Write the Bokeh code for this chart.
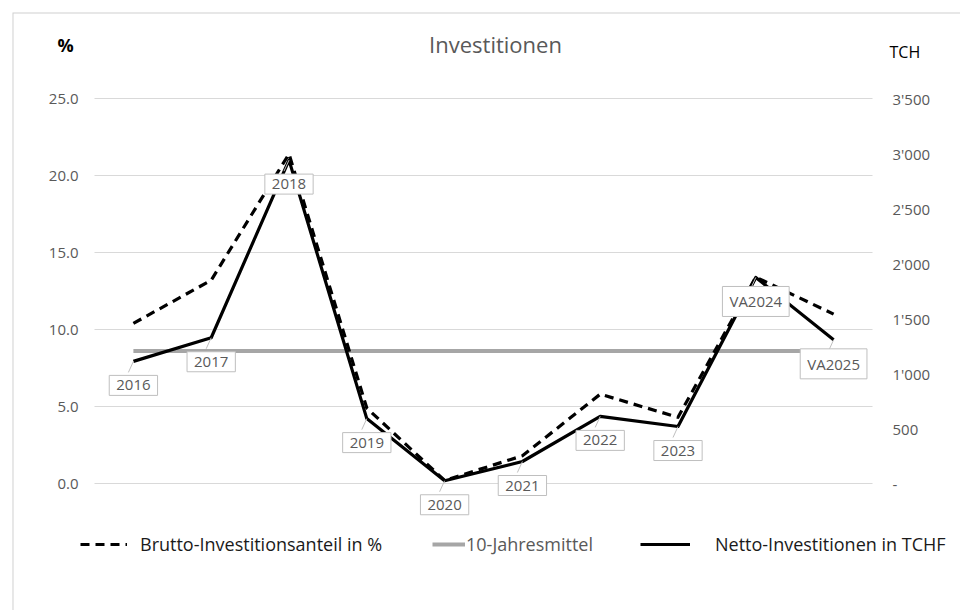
from bokeh.plotting import figure
from bokeh.models import (Range1d, LinearAxis, FixedTicker, Label, Legend, LegendItem,
                          ColumnDataSource, BoxAnnotation)
from bokeh.core.properties import value
from bokeh.embed import file_html
from bokeh.resources import INLINE

# ---------------- data ----------------
categories = ["2016", "2017", "2018", "2019", "2020", "2021", "2022", "2023", "VA2024", "VA2025"]
brutto_pct = [10.4, 13.2, 21.4, 4.9, 0.2, 1.8, 5.8, 4.3, 13.4, 11.0]
netto_tchf = [1110, 1325, 2940, 590, 25, 200, 610, 518, 1873, 1306]
mittel_pct = [8.6] * len(categories)

left_ticks = [0, 5, 10, 15, 20, 25]
left_tick_labels = ["0.0", "5.0", "10.0", "15.0", "20.0", "25.0"]
right_ticks = [0, 500, 1000, 1500, 2000, 2500, 3000, 3500]
right_tick_labels = ["-", "500", "1'000", "1'500", "2'000", "2'500", "3'000", "3'500"]

title_text = "Investitionen"
left_title = "%"
right_title = "TCH"
legend_labels = ["Brutto-Investitionsanteil in %", "10-Jahresmittel", "Netto-Investitionen in TCHF"]

# ---------------- layout geometry (pixels) ----------------
FONT = "Open Sans"
W, H = 960, 610
FR_L, FR_R, FR_T, FR_B = 12, 960, 12, 610          # frame edges on the canvas
PLOT_L, PLOT_R, PLOT_T, PLOT_B = 94, 872, 98, 483  # category span / value span 0..25

n = len(categories)
sx = (PLOT_R - PLOT_L) / n
sy = (PLOT_B - PLOT_T) / left_ticks[-1]
x_start = -(PLOT_L - FR_L) / sx
x_end = n + (FR_R - PLOT_R) / sx
y_end = left_ticks[-1] + (PLOT_T - FR_T) / sy
y_start = -(FR_B - PLOT_B) / sy
ratio = right_ticks[-1] / left_ticks[-1]

xs = [i + 0.5 for i in range(n)]

p = figure(width=W, height=H, output_backend="svg", toolbar_location=None,
           x_range=Range1d(x_start, x_end), y_range=Range1d(y_start, y_end),
           min_border_left=FR_L, min_border_right=W - FR_R, min_border_top=FR_T,
           min_border_bottom=H - FR_B,
           outline_line_color=None, background_fill_color="white", border_fill_color="white")
p.extra_y_ranges = {"right": Range1d(y_start * ratio, y_end * ratio)}

p.xaxis.visible = False
p.xgrid.visible = False
p.ygrid.visible = False


def style_axis(ax, standoff):
    ax.axis_line_color = None
    ax.major_tick_line_color = None
    ax.minor_tick_line_color = None
    ax.major_tick_out = 0
    ax.major_tick_in = 0
    ax.major_label_standoff = standoff
    ax.major_label_text_font = FONT
    ax.major_label_text_font_size = "15px"
    ax.major_label_text_color = "#595959"


ya = p.yaxis[0]
ya.ticker = FixedTicker(ticks=left_ticks)
ya.major_label_overrides = {t: s for t, s in zip(left_ticks, left_tick_labels)}
ya.fixed_location = 0
style_axis(ya, 16)

ra = LinearAxis(y_range_name="right", ticker=FixedTicker(ticks=right_ticks))
ra.major_label_overrides = {t: s for t, s in zip(right_ticks, right_tick_labels)}
ra.fixed_location = n
style_axis(ra, 20)
p.add_layout(ra, "right")

# outer chart border (only top and left edges fall inside the canvas)
p.add_layout(BoxAnnotation(left=x_start, right=x_end + 50, top=y_end, bottom=y_start - 50,
                           fill_alpha=0, line_color="#d0d0d0", line_alpha=1.0, line_width=2,
                           level="underlay"))

# gridlines over the category span
p.segment(x0=[0] * len(left_ticks), x1=[n] * len(left_ticks), y0=left_ticks, y1=left_ticks,
          line_color="#d9d9d9", line_width=1)

# ---------------- series ----------------
src = ColumnDataSource(dict(x=xs, cat=categories, brutto=brutto_pct, netto=netto_tchf, mittel=mittel_pct))

r_mittel = p.line("x", "mittel", source=src, line_color="#a6a6a6", line_width=4)
r_brutto = p.line("x", "brutto", source=src, line_color="black", line_width=3.2,
                  line_dash="9 6", line_join="round")
r_netto = p.line("x", "netto", source=src, y_range_name="right", line_color="black",
                 line_width=3.2, line_join="round")

# callout pointers
ptr_len = 11 / (sy / ratio)
p.segment(x0=xs, y0=netto_tchf, x1=[x - 5 / sx for x in xs], y1=[v - ptr_len for v in netto_tchf],
          y_range_name="right", line_color="#bfbfbf", line_width=1)

# data labels
p.text("x", "netto", text="cat", source=src, y_range_name="right",
       text_align="center", text_baseline="middle", y_offset=24,
       text_font=value(FONT), text_font_size="15px", text_color="#595959",
       background_fill_color="white", border_line_color="#bfbfbf", border_line_width=1,
       padding=(7, 5))

# ---------------- titles ----------------
def px_label(px, py, text, size, color, style="normal", align="center"):
    p.add_layout(Label(x=(px - PLOT_L) / sx, y=(PLOT_B - py) / sy, text=text,
                       text_font=FONT, text_font_size=size, text_color=color,
                       text_font_style=style, text_align=align, text_baseline="middle"))

px_label(495, 43, title_text, "22px", "#595959")
px_label(65, 44, left_title, "18px", "black", style="bold")
px_label(889, 51, right_title, "16px", "black", align="left")

# ---------------- legends ----------------
def add_legend(label, rend, glyph_left, gw, standoff, color):
    lg = Legend(items=[LegendItem(label=label, renderers=[rend])],
                location=(glyph_left - FR_L, FR_B - 556),
                orientation="horizontal", padding=0, margin=0, border_line_color=None,
                background_fill_alpha=0, glyph_width=gw, glyph_height=22, label_height=22,
                label_standoff=standoff, label_text_font=FONT, label_text_font_size="18px",
                label_text_color=color)
    p.add_layout(lg, "center")

add_legend(legend_labels[0], r_brutto, 80, 47, 13, "#1a1a1a")
add_legend(legend_labels[1], r_mittel, 432, 33, 1, "#595959")
add_legend(legend_labels[2], r_netto, 640, 50, 25, "#1a1a1a")

open("out.html", "w").write(file_html(p, INLINE))
